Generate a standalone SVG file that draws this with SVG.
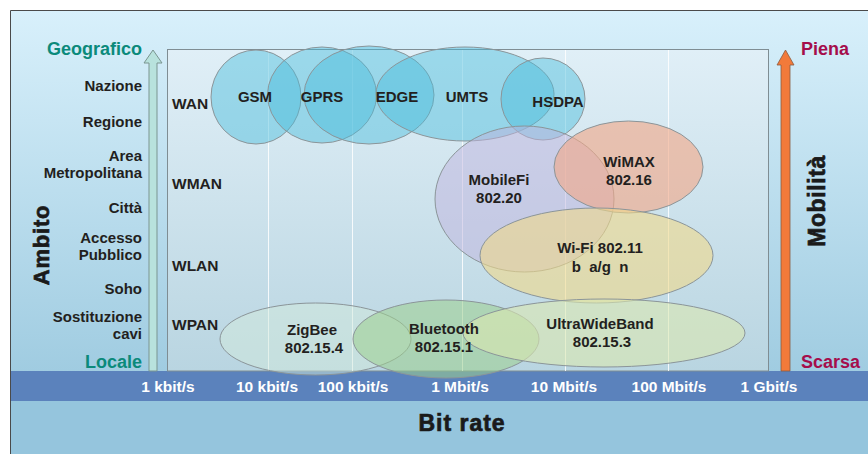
<svg xmlns="http://www.w3.org/2000/svg" width="868" height="454" viewBox="0 0 868 454">
  <defs>
    <linearGradient id="bgGrad" x1="0" y1="0" x2="0" y2="1">
      <stop offset="0" stop-color="#d8f0fb"/>
      <stop offset="1" stop-color="#a0cce1"/>
    </linearGradient>
    <linearGradient id="boxGrad" x1="0" y1="0" x2="0" y2="1">
      <stop offset="0" stop-color="#e0eff7"/>
      <stop offset="1" stop-color="#b9d5e1"/>
    </linearGradient>
  </defs>
  <style>
    text { font-family: "Liberation Sans", Arial, Helvetica, sans-serif; font-weight: bold; }
    .lbl { fill: #231f20; font-size: 15px; text-anchor: middle; }
    .side { fill: #231f20; font-size: 15px; text-anchor: end; }
    .zone { fill: #231f20; font-size: 15.5px; }
    .teal { fill: #0b8a7b; font-size: 18px; }
    .crim { fill: #a50d4b; font-size: 18px; }
    .tick { fill: #ffffff; font-size: 15.5px; text-anchor: middle; }
    .heavy { fill: #1a1a1a; stroke: #1a1a1a; stroke-width: 0.7px; text-anchor: middle; }
    .grid { stroke: #ffffff; stroke-width: 1; opacity: 0.85; }
    .ell { stroke: #8b9599; stroke-width: 1; }
    .cyan { fill: #48bcdb; fill-opacity: 0.45; }
    .lav { fill: #c0b4de; fill-opacity: 0.5; }
    .sal { fill: #f2a887; fill-opacity: 0.62; }
    .yel { fill: #f0d98a; fill-opacity: 0.6; }
    .zig { fill: #d2eadb; fill-opacity: 0.5; }
    .blu { fill: #9ccf8e; fill-opacity: 0.55; }
    .uwb { fill: #dbe8b0; fill-opacity: 0.6; }
  </style>

  <!-- page and frame -->
  <rect x="0" y="0" width="868" height="454" fill="#ffffff"/>
  <rect x="10" y="10" width="858" height="361" fill="url(#bgGrad)"/>
  <rect x="10" y="401" width="858" height="53" fill="#95c5dd"/>
  <rect x="10" y="371" width="858" height="30" fill="#5b82bc"/>
  <path d="M10.5 454 V10.5 H868" fill="none" stroke="#4a4a4a" stroke-width="1"/>

  <!-- plot area -->
  <rect x="167.5" y="49.5" width="601" height="321.5" fill="url(#boxGrad)" stroke="#7f8d93" stroke-width="1"/>
  <g id="gridlines">
    <line class="grid" x1="268.5" y1="50" x2="268.5" y2="371"/>
    <line class="grid" x1="352.5" y1="50" x2="352.5" y2="371"/>
    <line class="grid" x1="462.5" y1="50" x2="462.5" y2="371"/>
    <line class="grid" x1="565.5" y1="50" x2="565.5" y2="371"/>
    <line class="grid" x1="668.5" y1="50" x2="668.5" y2="371"/>
  </g>

  <!-- axis arrows -->
  <g id="axes">
    <polygon points="149,371 149,63 144,63 153,50 162,63 157,63 157,371" fill="#b8e2dd" stroke="#7a9590" stroke-width="1"/>
    <polygon points="781,371 781,65 777,65 785.5,50 794,65 790,65 790,371" fill="#f27a3a" stroke="#8a5a40" stroke-width="0.8"/>
  </g>

  <!-- left scale: geographic scope -->
  <g id="scope-labels">
    <text class="teal" x="142" y="55" text-anchor="end">Geografico</text>
    <text class="side" x="142" y="91">Nazione</text>
    <text class="side" x="142" y="127">Regione</text>
    <text class="side" x="142" y="161">Area</text>
    <text class="side" x="142" y="178">Metropolitana</text>
    <text class="side" x="142" y="213">Città</text>
    <text class="side" x="142" y="243">Accesso</text>
    <text class="side" x="142" y="260">Pubblico</text>
    <text class="side" x="142" y="294">Soho</text>
    <text class="side" x="142" y="322">Sostituzione</text>
    <text class="side" x="142" y="339">cavi</text>
    <text class="teal" x="142" y="368" text-anchor="end">Locale</text>
    <text class="heavy" font-size="22" letter-spacing="0.8" transform="translate(49 245) rotate(-90)">Ambito</text>
  </g>

  <!-- right scale: mobility -->
  <g id="mobility-labels">
    <text class="crim" x="801" y="55">Piena</text>
    <text class="crim" x="801" y="368">Scarsa</text>
    <text class="heavy" font-size="23" letter-spacing="0.6" transform="translate(825 201) rotate(-90)">Mobilità</text>
  </g>

  <!-- network classes -->
  <g id="zones">
    <text class="zone" x="172" y="109">WAN</text>
    <text class="zone" x="172" y="189">WMAN</text>
    <text class="zone" x="172" y="271">WLAN</text>
    <text class="zone" x="172" y="330">WPAN</text>
  </g>

  <!-- technology coverage areas (translucent, overlapping) -->
  <g id="coverage">
    <g id="gsm"><ellipse class="ell cyan" cx="256" cy="97" rx="45" ry="47"/></g>
    <g id="gprs"><ellipse class="ell cyan" cx="322" cy="95" rx="54.5" ry="48"/></g>
    <g id="edge"><ellipse class="ell cyan" cx="369" cy="95" rx="65" ry="49"/></g>
    <g id="umts"><ellipse class="ell cyan" cx="465" cy="94" rx="89" ry="47"/></g>
    <g id="hsdpa"><ellipse class="ell cyan" cx="543" cy="99" rx="42" ry="41"/></g>
    <g id="mobilefi"><ellipse class="ell lav" cx="524.5" cy="199" rx="89.5" ry="73"/></g>
    <g id="wimax"><ellipse class="ell sal" cx="628.5" cy="167" rx="74.5" ry="46"/></g>
    <g id="wifi"><ellipse class="ell yel" cx="596.5" cy="255.5" rx="116.5" ry="47.5"/></g>
    <g id="zigbee"><ellipse class="ell zig" cx="315.5" cy="339" rx="95.5" ry="36"/></g>
    <g id="bluetooth"><ellipse class="ell blu" cx="446" cy="339" rx="93" ry="39"/></g>
    <g id="uwb"><ellipse class="ell uwb" cx="604" cy="333" rx="141" ry="34"/></g>
  </g>

  <!-- technology names, kept above every area -->
  <g id="technology-labels">
    <text id="gsm-label" class="lbl" x="255" y="102">GSM</text>
    <text id="gprs-label" class="lbl" x="322" y="102">GPRS</text>
    <text id="edge-label" class="lbl" x="397" y="102">EDGE</text>
    <text id="umts-label" class="lbl" x="467" y="102">UMTS</text>
    <text id="hsdpa-label" class="lbl" x="558" y="107">HSDPA</text>
    <g id="mobilefi-label">
      <text class="lbl" x="499" y="185">MobileFi</text>
      <text class="lbl" x="499" y="203">802.20</text>
    </g>
    <g id="wimax-label">
      <text class="lbl" x="629" y="167">WiMAX</text>
      <text class="lbl" x="629" y="185">802.16</text>
    </g>
    <g id="wifi-label">
      <text class="lbl" x="600" y="253">Wi-Fi 802.11</text>
      <text class="lbl" x="600" y="272" xml:space="preserve">b  a/g  n</text>
    </g>
    <g id="zigbee-label">
      <text class="lbl" x="312" y="335">ZigBee</text>
      <text class="lbl" x="314" y="353">802.15.4</text>
    </g>
    <g id="bluetooth-label">
      <text class="lbl" x="444" y="334">Bluetooth</text>
      <text class="lbl" x="444" y="352">802.15.1</text>
    </g>
    <g id="uwb-label">
      <text class="lbl" x="600" y="329">UltraWideBand</text>
      <text class="lbl" x="602" y="347">802.15.3</text>
    </g>
  </g>

  <!-- bit rate axis -->
  <g id="bitrate-axis">
    <text class="tick" x="168" y="392">1 kbit/s</text>
    <text class="tick" x="267" y="392">10 kbit/s</text>
    <text class="tick" x="353" y="392">100 kbit/s</text>
    <text class="tick" x="460" y="392">1 Mbit/s</text>
    <text class="tick" x="564" y="392">10 Mbit/s</text>
    <text class="tick" x="669" y="392">100 Mbit/s</text>
    <text class="tick" x="769" y="392">1 Gbit/s</text>
    <text class="heavy" x="462" y="431" font-size="23" letter-spacing="1">Bit rate</text>
  </g>
</svg>
